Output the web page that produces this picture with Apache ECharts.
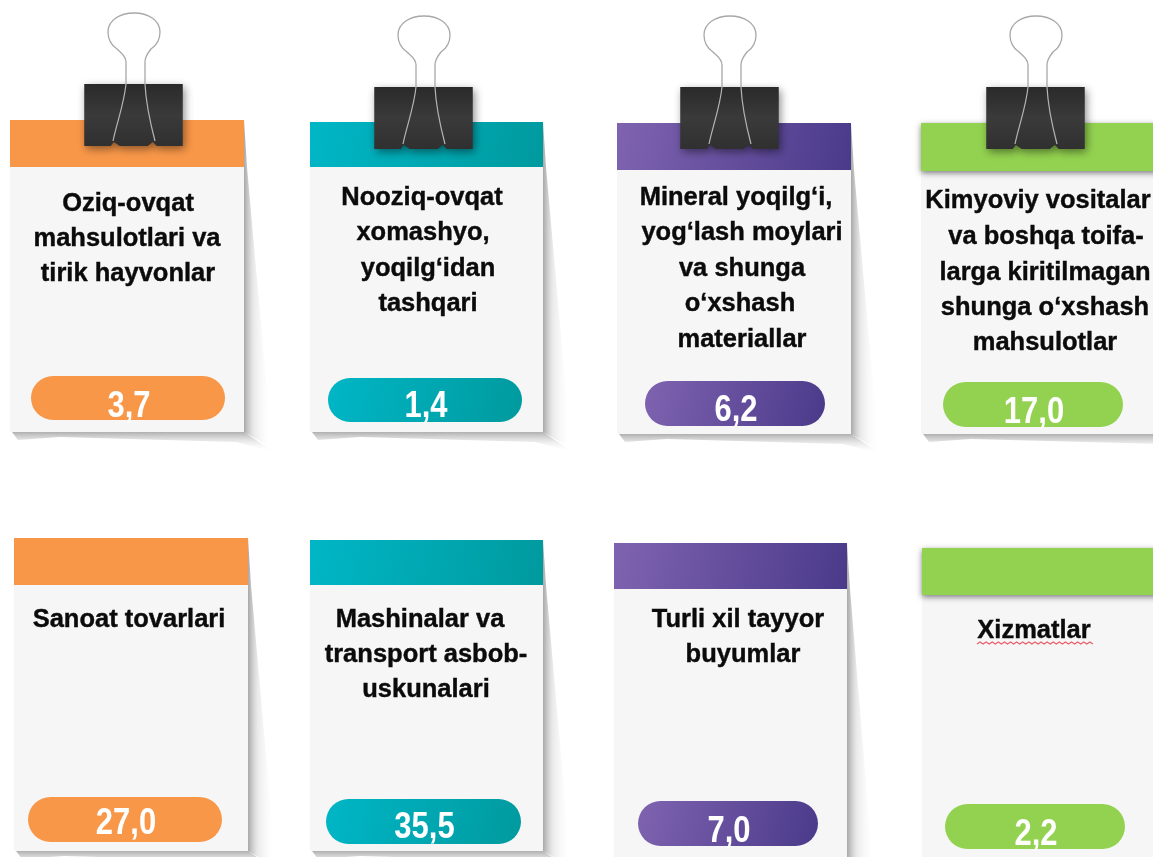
<!DOCTYPE html>
<html><head><meta charset="utf-8">
<style>html,body{margin:0;padding:0;background:#fff}#c{width:1153px;height:857px}</style>
<script src="https://cdn.jsdelivr.net/npm/echarts@6/dist/echarts.min.js"></script>
</head><body><div id="c"></div>
<script>
// ---- data ----
const categories = [
  ["Oziq-ovqat","mahsulotlari va","tirik hayvonlar"],
  ["Nooziq-ovqat","xomashyo,","yoqilg‘idan","tashqari"],
  ["Mineral yoqilg‘i,","yog‘lash moylari","va shunga","o‘xshash","materiallar"],
  ["Kimyoviy vositalar","va boshqa toifa-","larga kiritilmagan","shunga o‘xshash","mahsulotlar"],
  ["Sanoat tovarlari"],
  ["Mashinalar va","transport asbob-","uskunalari"],
  ["Turli xil tayyor","buyumlar"],
  ["Xizmatlar"]
];
const values = [3.7, 1.4, 6.2, 17.0, 27.0, 35.5, 7.0, 2.2];

// ---- layout (separate from the data) ----
const cardBoxes = [ // x1,x2,bandTop,bandBottom,bottom
  [10,244,120,167,432],[310,543,122,167,432],[617,851,123,170,434],[921,1175,123,171,434],
  [14,248,538,585,851],[310,543,540,585,851],[614,847,543,589,875],[922,1175,548,595,875]
];
const pills = [ // x,y,w,h
  [31,376,194,44],[328,378,194,44],[645,381,180,45],[943,382,180,45],
  [28,797,194,45],[326,799,195,45],[638,801,180,45],[945,804,180,45]
];
const valueDrop = [9,7,7.5,8.5,5,6.5,9,9];
const clipPos = [[84,84],[374,87],[680,87],[986,87],null,null,null,null]; // clip left/top
const lineCentres = [
  [128,127,128],[422,423,428,428],[736,742,742,740,742],[1038,1046,1045,1045,1045],
  [129],[420,426,426],[738,743],[1034]
];
const lineTops = [
  [204,239,274],[198,233,269,304],[198,233,269,304,340],[201,237,273,308,343],
  [620],[620,655,690],[620,655],[631]
];
const palette = [
  ['#f89748','#f89748'],['#00b6c6','#009a9e'],['#7f63b0','#4a3a8a'],['#93d250','#93d250']
];
const fontFamily = '"Liberation Sans", Arial, sans-serif';

const grad = (c, x2, y2) => new echarts.graphic.LinearGradient(0,0,x2,y2,[
  {offset:0,color:c[0]},{offset:1,color:c[1]}]);

function clipParts(px, py){
  const body = 'M0.5 0 L99 0 L99 62 L73 62 L69 58 L64 62 L36 62 L30 58 L27 62 L0.5 62 Z';
  const wire = 'M42 0 L42 -22 C42 -28 37 -31 33 -35 C27 -39 24 -45 24 -52 C24 -64 36 -71 50 -71 C64 -71 76 -64 76 -52 C76 -45 73 -39 67 -35 C64 -31 61 -28 61 -22 L61 0';
  const legL = 'M42 0 C40 20 33 38 29 57';
  const legR = 'M61 0 C62 20 66 38 71 57';
  return [
    {type:'path',x:px,y:py,shape:{pathData:body,x:0,y:0,width:99,height:62},
      style:{fill:new echarts.graphic.LinearGradient(0,0,0,1,[
        {offset:0,color:'#2a2a2a'},{offset:.5,color:'#3a3a3b'},{offset:1,color:'#303031'}]),
        shadowBlur:9,shadowColor:'rgba(0,0,0,.45)',shadowOffsetX:2,shadowOffsetY:3}},
    {type:'path',x:px,y:py,silent:true,shape:{pathData:wire,x:24,y:-71,width:52,height:71},style:{fill:'none',stroke:'#a8a8a8',lineWidth:1.3}},
    {type:'path',x:px,y:py,silent:true,shape:{pathData:legL,x:29,y:0,width:13,height:57},style:{fill:'none',stroke:'#b5b5b5',lineWidth:1.2}},
    {type:'path',x:px,y:py,silent:true,shape:{pathData:legR,x:61,y:0,width:10,height:57},style:{fill:'none',stroke:'#b5b5b5',lineWidth:1.2}}
  ];
}

function renderCard(params, api){
  const i = params.dataIndex;
  const [x1,x2,t,b,bot] = cardBoxes[i];
  const [px,py,pw,ph] = pills[i];
  const c = palette[i % 4];
  const kids = [];
  // side and bottom paper shadows
  kids.push({type:'polygon',shape:{points:[[x2,t],[x2+3,b],[x2+28,bot+16],[x2,bot]]},
    style:{fill:new echarts.graphic.LinearGradient(0,0,1,0,[
      {offset:0,color:'rgba(110,110,110,.6)'},{offset:.35,color:'rgba(180,180,180,.28)'},{offset:1,color:'rgba(255,255,255,0)'}])}});
  kids.push({type:'polygon',shape:{points:[[x1+2,bot],[x2,bot],[x2+30,bot+20],[x2-8,bot+10],[x1+50,bot+5],[x1+8,bot+8]]},
    style:{fill:new echarts.graphic.LinearGradient(0,0,0,1,[
      {offset:0,color:'rgba(110,110,110,.55)'},{offset:.5,color:'rgba(180,180,180,.25)'},{offset:1,color:'rgba(255,255,255,0)'}])}});
  // paper
  kids.push({type:'rect',shape:{x:x1,y:b,width:x2-x1,height:bot-b},style:{fill:'#f6f6f6'}});
  // header band
  const shaded = i===7 || i===3;
  kids.push({type:'rect',shape:{x:x1,y:t,width:x2-x1,height:b-t},
    style:{fill:grad(c,1,1),shadowBlur:shaded?6:0,shadowColor:'rgba(0,0,0,.5)',shadowOffsetY:shaded?2:0}});
  // category lines
  categories[i].forEach((line,k)=>{
    kids.push({type:'text',x:lineCentres[i][k],y:lineTops[i][k],scaleX:1.02,
      style:{text:line,fill:'#0b0b0b',stroke:'#0b0b0b',lineWidth:.4,font:'bold 25px '+fontFamily,align:'center',verticalAlign:'middle'}});
  });
  // Spell-check squiggle under the last card title
  if(i===7){
    const pts=[]; for(let q=0;q<39;q++) pts.push([977+q*3.05,643+(q%2?-1:1)]);
    kids.push({type:'polyline',shape:{points:pts},style:{fill:'none',stroke:'#e8606a',lineWidth:1.2}});
  }
  // value pill
  kids.push({type:'rect',shape:{x:px,y:py,width:pw,height:ph,r:ph/2},style:{fill:grad(c,1,1)}});
  kids.push({type:'text',x:px+pw/2+1,y:py+ph/2+valueDrop[i],scaleX:.86,
    style:{text:api.value(0).toFixed(1).replace('.',','),fill:'#fff',font:'bold 36px '+fontFamily,
      align:'center',verticalAlign:'middle'}});
  if(clipPos[i]) kids.push(...clipParts(clipPos[i][0],clipPos[i][1]));
  return {type:'group',children:kids};
}

const chart = echarts.init(document.getElementById('c'),null,{renderer:'canvas'});
chart.setOption({
  animation:false,
  backgroundColor:'#fff',
  series:[{type:'custom',coordinateSystem:'none',renderItem:renderCard,
    clip:false,data:values.map(v=>[v])}]
});
</script></body></html>
